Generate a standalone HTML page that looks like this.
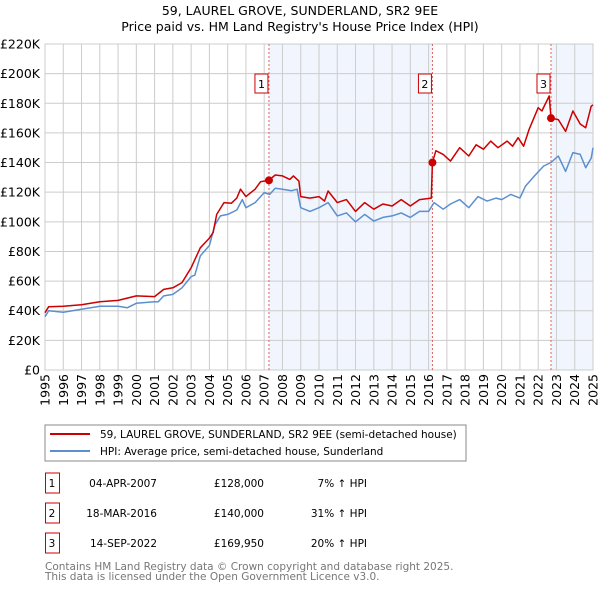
<!DOCTYPE html>
<html><head><meta charset="utf-8"><style>
body{margin:0;background:#fff;font-family:"Liberation Sans","DejaVu Sans",sans-serif;}
svg text{font-family:"DejaVu Sans","Liberation Sans",sans-serif;}
</style></head><body>
<svg id="c" width="600" height="590" viewBox="0 0 600 590" xmlns="http://www.w3.org/2000/svg">
<text x="300" y="15" text-anchor="middle" font-size="12.5" fill="#000">59, LAUREL GROVE, SUNDERLAND, SR2 9EE</text>
<text x="300" y="31" text-anchor="middle" font-size="12.5" fill="#000">Price paid vs. HM Land Registry's House Price Index (HPI)</text>
<g id="plot"></g>
<rect x="45" y="425" width="421" height="36" fill="#fff" stroke="#888"/>
<line x1="50" y1="434" x2="90" y2="434" stroke="#cc0000" stroke-width="2"/>
<text x="100" y="438" font-size="10.5">59, LAUREL GROVE, SUNDERLAND, SR2 9EE (semi-detached house)</text>
<line x1="50" y1="451" x2="90" y2="451" stroke="#5b8fd0" stroke-width="2"/>
<text x="100" y="455" font-size="10.5">HPI: Average price, semi-detached house, Sunderland</text>
<g id="table" font-size="10.5"></g>
<text x="45" y="570" font-size="10.5" fill="#777">Contains HM Land Registry data © Crown copyright and database right 2025.</text>
<text x="45" y="580" font-size="10.5" fill="#777">This data is licensed under the Open Government Licence v3.0.</text>
</svg>
<script>
const hpiYears=[1995,1995.2,1996,1997,1998,1999,1999.5,2000,2001,2001.2,2001.5,2002,2002.5,2003,2003.2,2003.5,2004,2004.3,2004.6,2005,2005.5,2005.8,2006,2006.5,2007,2007.3,2007.6,2008,2008.5,2008.8,2009,2009.5,2010,2010.5,2011,2011.5,2012,2012.5,2013,2013.5,2014,2014.5,2015,2015.5,2016,2016.3,2016.8,2017.2,2017.7,2018.2,2018.7,2019.2,2019.7,2020,2020.5,2021,2021.3,2021.8,2022.3,2022.7,2023.1,2023.5,2023.9,2024.3,2024.6,2024.9,2025];
const hpiValues=[36,40,39,41,43,43,42,45,46,46,50,51,55.5,63,64,77,84,98,104,105,108,115,109.5,113,119.7,118.5,122.6,122,121,122,109.5,107,109.5,113,104,106,100,105,100.5,103,104,106,103,107,107,113,108.5,112,115,109.5,117,114,116,115,118.5,116,124,131,137.7,140,144.4,134,146.7,145.5,136.5,143,150];
const priceYears=[1995,1995.2,1996,1997,1998,1999,2000,2001,2001.5,2002,2002.5,2003,2003.5,2004,2004.2,2004.4,2004.8,2005.2,2005.5,2005.7,2006,2006.5,2006.8,2007.26,2007.6,2008,2008.4,2008.6,2008.9,2009,2009.5,2010,2010.3,2010.5,2011,2011.5,2012,2012.5,2013,2013.5,2014,2014.5,2015,2015.5,2016.15,2016.21,2016.4,2016.8,2017.2,2017.7,2018.2,2018.6,2019,2019.4,2019.8,2020.3,2020.6,2020.9,2021.2,2021.5,2022,2022.2,2022.6,2022.7,2023.1,2023.5,2023.9,2024.3,2024.6,2024.9,2025];
const priceValues=[38.7,42.7,43,44,46,47,50,49.5,54.4,55.5,59,69,82.5,89,92.7,105,113,112.5,116,122,117,122,127,128,131.6,131,128.6,131,127.5,117,116,117,114,120.8,113,115,107,113,108.5,112,110.7,115,110.7,115,116,140,148,145.5,141,150,144.4,152,149,154.5,150,154.5,151,156.8,151,162.4,177,174.8,185,170,169,161,174.8,166,163.5,178,179];
const saleYears=[2007.26,2016.21,2022.7];
const saleValues=[128,140,169.95];
const saleLabels=["1","2","3"];
const saleDates=["04-APR-2007","18-MAR-2016","14-SEP-2022"];
const salePrices=["£128,000","£140,000","£169,950"];
const saleDiffs=["7% ↑ HPI","31% ↑ HPI","20% ↑ HPI"];
const yTicks=[0,20,40,60,80,100,120,140,160,180,200,220];
const xTicks=[1995,1996,1997,1998,1999,2000,2001,2002,2003,2004,2005,2006,2007,2008,2009,2010,2011,2012,2013,2014,2015,2016,2017,2018,2019,2020,2021,2022,2023,2024,2025];

const NS="http://www.w3.org/2000/svg";
const X0=45,X1=593,Y0=370,Y1=44;
const xs=y=>X0+(y-1995)/30*(X1-X0);
const ys=v=>Y0-v/220*(Y0-Y1);
const g=document.getElementById('plot');
function mk(tag,attrs,parent){const e=document.createElementNS(NS,tag);for(const k in attrs)e.setAttribute(k,attrs[k]);(parent||g).appendChild(e);return e;}
let s1=mk('rect',{x:xs(saleYears[0]),y:Y1,width:xs(saleYears[1])-xs(saleYears[0]),height:Y0-Y1,fill:'#eef2fc',opacity:0.8});


let s2=mk('rect',{x:xs(saleYears[2]),y:Y1,width:X1-xs(saleYears[2]),height:Y0-Y1,fill:'#eef2fc',opacity:0.8});


yTicks.forEach(t=>{
  let l=mk('line',{x1:X0,x2:X1,y1:ys(t),y2:ys(t),stroke:'#ccc','stroke-width':1});
  
  
  let tx=mk('text',{x:40,y:ys(t)+4.5,'text-anchor':'end','font-size':12.5});
  
  
  tx.textContent=t===0?'£0':'£'+t+'K';
});
xTicks.forEach(t=>{
  let l=mk('line',{x1:xs(t),x2:xs(t),y1:Y1,y2:Y0,stroke:'#ccc','stroke-width':1});
  
  
  let tx=mk('text',{x:0,y:0,'text-anchor':'end','font-size':12.5,transform:`translate(${xs(t)+4.5},374) rotate(-90)`});
  
  
  tx.textContent=t;
});
let fr=mk('rect',{x:X0,y:Y1,width:X1-X0,height:Y0-Y1,fill:'none',stroke:'#ccc'});


saleYears.forEach((y,i)=>{
  let l=mk('line',{x1:xs(y),x2:xs(y),y1:Y1,y2:Y0,stroke:'#e06060','stroke-width':1,'stroke-dasharray':'2,2'});
  
  
});
function path(xsA,vs,col,name){
  let d=xsA.map((y,i)=>(i?'L':'M')+xs(y).toFixed(1)+','+ys(vs[i]).toFixed(1)).join('');
  let p=mk('path',{d:d,fill:'none',stroke:col,'stroke-width':1.5,'stroke-linejoin':'round'});
  
  
}
path(hpiYears,hpiValues,'#5b8fd0','hpi-line');
path(priceYears,priceValues,'#cc0000','price-paid-line');
saleYears.forEach((y,i)=>{
  let c=mk('circle',{cx:xs(y),cy:ys(saleValues[i]),r:4,fill:'#cc0000'});
  
  
  let bx=xs(y)-14;
  let r=mk('rect',{x:bx,y:74,width:13,height:19,fill:'#fff',stroke:'#cc0000'});
  
  
  let t=mk('text',{x:bx+6.5,y:88,'text-anchor':'middle','font-size':11});
  
  
  t.textContent=saleLabels[i];
});
const tb=document.getElementById('table');
saleLabels.forEach((lab,i)=>{
  const yy=483+i*30;
  let r=mk('rect',{x:45.5,y:yy-10,width:14,height:20,fill:'#fff',stroke:'#cc0000'},tb);
  
  
  const cells=[[52,lab,'middle'],[157,saleDates[i],'end'],[264,salePrices[i],'end'],[367,saleDiffs[i],'end']];
  const names=['table-index','table-date','table-price','table-hpi-diff'];
  cells.forEach((c,j)=>{
    let t=mk('text',{x:c[0],y:yy+4,'text-anchor':c[2]},tb);
    
    
    t.textContent=c[1];
  });
});
</script>
</body></html>
